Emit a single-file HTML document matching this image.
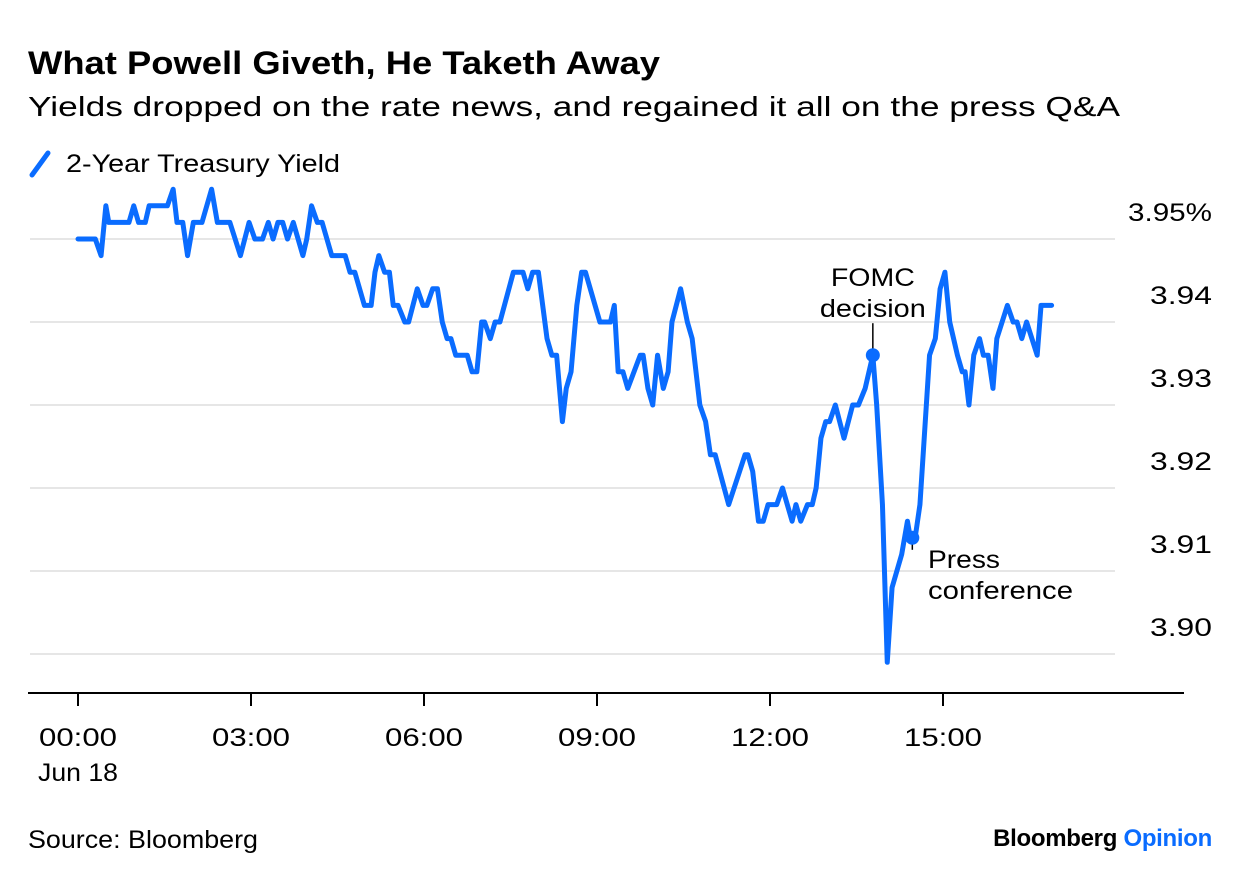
<!DOCTYPE html>
<html><head><meta charset="utf-8">
<style>
body{margin:0;background:#fff;font-family:"Liberation Sans",sans-serif;}
svg text{font-family:"Liberation Sans",sans-serif;fill:#000;}
</style></head>
<body>
<svg id="chart" width="1240" height="882" viewBox="0 0 1240 882" xmlns="http://www.w3.org/2000/svg">
<text x="28" y="74" font-size="32" font-weight="bold" textLength="632" lengthAdjust="spacingAndGlyphs">What Powell Giveth, He Taketh Away</text>
<text x="28" y="116" font-size="28" textLength="1092" lengthAdjust="spacingAndGlyphs">Yields dropped on the rate news, and regained it all on the press Q&amp;A</text>
<g>
<line x1="32" y1="175" x2="48" y2="153" stroke="#0a6cff" stroke-width="5" stroke-linecap="round"/>
<text x="66" y="172" font-size="25" textLength="274" lengthAdjust="spacingAndGlyphs">2-Year Treasury Yield</text>
</g>
<g id="grid"></g>
<g id="xaxis"></g>
<g id="series"></g>
<g id="annot"></g>
<text x="28" y="848" font-size="25" textLength="230" lengthAdjust="spacingAndGlyphs">Source: Bloomberg</text>
<text x="1212" y="846" font-size="24" font-weight="bold" text-anchor="end" letter-spacing="-0.3">Bloomberg <tspan fill="#0a6cff">Opinion</tspan></text>
</svg>
<script>
const yTicks = [3.90, 3.91, 3.92, 3.93, 3.94, 3.95];
const yTickLabels = ["3.90", "3.91", "3.92", "3.93", "3.94", "3.95%"];
const xTicks = [0, 180, 360, 540, 720, 900];
const xTickLabels = ["00:00", "03:00", "06:00", "09:00", "12:00", "15:00"];
const times = [0,18,24,29,32,53,58,63,70,74,93,99,103,109,114,120,129,139,145,158,169,178,184,192,198,203,208,213,218,224,234,238,243,249,254,264,278,283,288,298,305,309,313,319,324,328,333,340,344,353,359,363,369,374,379,384,388,393,405,410,415,420,423,429,434,439,453,463,468,473,479,488,493,498,504,508,513,519,524,528,543,554,558,562,567,572,585,588,593,598,603,609,614,618,627,634,639,647,653,658,663,677,694,697,702,708,713,718,727,733,743,747,752,759,764,768,773,778,782,788,797,806,812,819,827,831,837,842,847,857,863,866,871,876,886,892,897,902,907,915,920,923,927,932,938,942,947,952,956,967,973,977,982,987,998,1002,1013];
const yields = [3.950,3.950,3.948,3.954,3.952,3.952,3.954,3.952,3.952,3.954,3.954,3.956,3.952,3.952,3.948,3.952,3.952,3.956,3.952,3.952,3.948,3.952,3.950,3.950,3.952,3.950,3.952,3.952,3.950,3.952,3.948,3.950,3.954,3.952,3.952,3.948,3.948,3.946,3.946,3.942,3.942,3.946,3.948,3.946,3.946,3.942,3.942,3.940,3.940,3.944,3.942,3.942,3.944,3.944,3.940,3.938,3.938,3.936,3.936,3.934,3.934,3.940,3.940,3.938,3.940,3.940,3.946,3.946,3.944,3.946,3.946,3.938,3.936,3.936,3.928,3.932,3.934,3.942,3.946,3.946,3.940,3.940,3.942,3.934,3.934,3.932,3.936,3.936,3.932,3.930,3.936,3.932,3.934,3.940,3.944,3.940,3.938,3.930,3.928,3.924,3.924,3.918,3.924,3.924,3.922,3.916,3.916,3.918,3.918,3.920,3.916,3.918,3.916,3.918,3.918,3.920,3.926,3.928,3.928,3.930,3.926,3.930,3.930,3.932,3.936,3.930,3.918,3.899,3.908,3.912,3.916,3.914,3.914,3.918,3.936,3.938,3.944,3.946,3.940,3.936,3.934,3.934,3.930,3.936,3.938,3.936,3.936,3.932,3.938,3.942,3.940,3.940,3.938,3.940,3.936,3.942,3.942];
const fomcTime = 827, fomcYield = 3.936;
const pressTime = 866, pressYield = 3.914;

const NS = "http://www.w3.org/2000/svg";
function xS(m){ return 78 + m * (173/180); }
function yS(v){ return 239 + (3.95 - v) * 8300; }
function mk(tag, attrs, parent){ const e=document.createElementNS(NS,tag); for(const k in attrs) e.setAttribute(k,attrs[k]); parent.appendChild(e); return e; }

const grid=document.getElementById('grid');
yTicks.forEach((v,i)=>{
  const l=mk('line',{x1:30,x2:1115,y1:yS(v),y2:yS(v),stroke:'#e6e6e6','stroke-width':2},grid);
  
  
  const lab=yTickLabels[i];
  const t=mk('text',{x:1212,y:yS(v)-18,'font-size':25,'text-anchor':'end',textLength:(lab.length===5?84:62),lengthAdjust:'spacingAndGlyphs'},grid);
  t.textContent=lab;
  
  
});
const xa=document.getElementById('xaxis');
const ax=mk('line',{x1:28,x2:1184,y1:693,y2:693,stroke:'#000','stroke-width':2},xa);


xTicks.forEach((m,i)=>{
  const tk=mk('line',{x1:xS(m),x2:xS(m),y1:693,y2:706,stroke:'#000','stroke-width':2},xa);
  
  
  const t=mk('text',{x:xS(m)-39,y:746,'font-size':25,textLength:78,lengthAdjust:'spacingAndGlyphs'},xa);
  t.textContent=xTickLabels[i];
  
  
});
const dl=mk('text',{x:38,y:781,'font-size':25,textLength:80,lengthAdjust:'spacingAndGlyphs'},xa);
dl.textContent='Jun 18';



const s=document.getElementById('series');
const path=mk('polyline',{points:times.map((m,i)=>xS(m)+','+yS(yields[i])).join(' '),fill:'none',stroke:'#0a6cff','stroke-width':5,'stroke-linejoin':'round','stroke-linecap':'round'},s);



const an=document.getElementById('annot');
const fx=xS(fomcTime), fy=yS(fomcYield);
const fl=mk('line',{x1:fx,x2:fx,y1:fy-32,y2:fy,stroke:'#000','stroke-width':1.5},an);


const fd=mk('circle',{cx:fx,cy:fy,r:7,fill:'#0a6cff'},an);


const ft=mk('text',{x:fx,y:fy-69,'font-size':25,'text-anchor':'middle'},an);
ft.innerHTML='<tspan x="'+fx+'" textLength="84" lengthAdjust="spacingAndGlyphs">FOMC</tspan><tspan x="'+fx+'" dy="31" textLength="106" lengthAdjust="spacingAndGlyphs">decision</tspan>';


const px=xS(pressTime)+2, py=yS(pressYield);
const pl=mk('line',{x1:px,x2:px,y1:py,y2:py+12,stroke:'#000','stroke-width':1.5},an);


const pd=mk('circle',{cx:px,cy:py,r:7,fill:'#0a6cff'},an);


const pt=mk('text',{x:928,y:py+30,'font-size':25},an);
pt.innerHTML='<tspan x="928" textLength="72" lengthAdjust="spacingAndGlyphs">Press</tspan><tspan x="928" dy="31" textLength="145" lengthAdjust="spacingAndGlyphs">conference</tspan>';


</script>
</body></html>
